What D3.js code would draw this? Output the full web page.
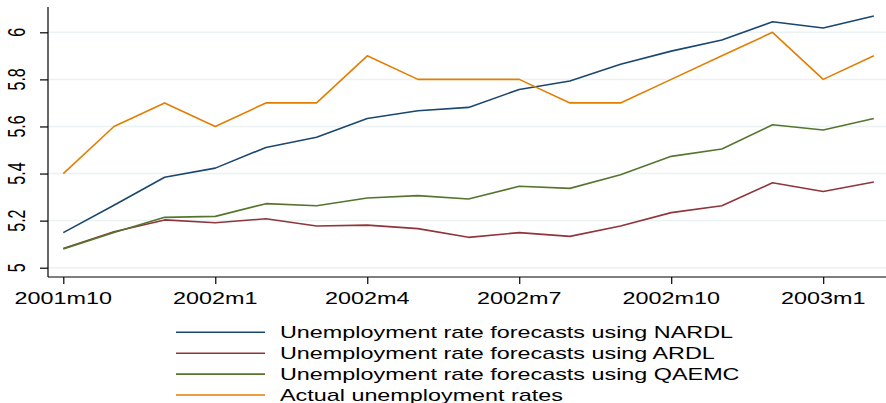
<!DOCTYPE html>
<html><head><meta charset="utf-8">
<script src="https://cdn.jsdelivr.net/npm/d3@7"></script>
<style>html,body{margin:0;padding:0;background:#fff;}svg{display:block;font-family:"Liberation Sans",Arial,sans-serif;}</style>
</head><body>
<svg id="c" width="886" height="403"></svg>
<script>
const months = ["2001m10","2001m11","2001m12","2002m1","2002m2","2002m3","2002m4","2002m5","2002m6","2002m7","2002m8","2002m9","2002m10","2002m11","2002m12","2003m1","2003m2"];
const nardl = [5.149,5.265,5.384,5.423,5.511,5.554,5.634,5.667,5.681,5.757,5.793,5.864,5.920,5.967,6.045,6.018,6.069];
const ardl  = [5.082,5.153,5.203,5.191,5.208,5.177,5.181,5.166,5.129,5.149,5.133,5.177,5.234,5.263,5.361,5.324,5.364];
const qaemc = [5.080,5.150,5.214,5.218,5.272,5.263,5.296,5.306,5.292,5.346,5.337,5.395,5.473,5.504,5.607,5.585,5.634];
const actual= [5.4,5.6,5.7,5.6,5.7,5.7,5.9,5.8,5.8,5.8,5.7,5.7,5.8,5.9,6.0,5.8,5.9];
const xTickLabels = ["2001m10","2002m1","2002m4","2002m7","2002m10","2003m1"];
const yTicks = [5,5.2,5.4,5.6,5.8,6];
const seriesNames = ["Unemployment rate forecasts using NARDL","Unemployment rate forecasts using ARDL","Unemployment rate forecasts using QAEMC","Actual unemployment rates"];
const seriesColors = ["#1a476f","#90353b","#55752f","#e37e00"];

const series = [nardl, ardl, qaemc, actual];
const svg = d3.select("#c");
const L = 48, R = 886, T = 7, B = 277;
const SX = 1.46;
const x = d3.scaleLinear().domain([-0.302, 16.24]).range([L, R]);
const y = d3.scaleLinear().domain([4.9605, 6.1075]).range([B, T]);

// grid
svg.append("g").selectAll("line").data(yTicks).join("line")
  .attr("x1", L).attr("x2", R).attr("y1", d => y(d)).attr("y2", d => y(d))
  .attr("stroke", "#eaf2f3").attr("stroke-width", 1.5);

// y axis
const yAxis = svg.append("g").attr("transform", `translate(${L},0)`)
  .call(d3.axisLeft(y).tickValues(yTicks).tickSize(8).tickFormat(""));
yAxis.select(".domain").attr("d", `M0,${T}V${B}`).attr("stroke", "#000").attr("stroke-width", 1.2);
yAxis.selectAll(".tick line").attr("stroke", "#000").attr("stroke-width", 1.2);
svg.append("g").selectAll("text").data(yTicks).join("text")
  .attr("transform", d => `translate(25,${y(d)}) scale(${SX},1) rotate(-90)`)
  .attr("text-anchor", "middle").attr("font-size", 16).attr("fill", "#000")
  .text(d => d3.format("~g")(d));

// x axis
const tickIdx = xTickLabels.map(l => months.indexOf(l));
const xAxis = svg.append("g").attr("transform", `translate(0,${B})`)
  .call(d3.axisBottom(x).tickValues(tickIdx).tickSize(7).tickFormat(""));
xAxis.select(".domain").attr("d", `M${L},0H${R}`).attr("stroke", "#000").attr("stroke-width", 1.2);
xAxis.selectAll(".tick line").attr("stroke", "#000").attr("stroke-width", 1.2);
svg.append("g").selectAll("text").data(tickIdx).join("text")
  .attr("transform", d => `translate(${x(d)},304) scale(${SX},1)`)
  .attr("text-anchor", "middle").attr("font-size", 16).attr("fill", "#000")
  .text((d, i) => xTickLabels[i]);

// lines
const line = d3.line().x((d, i) => x(i)).y(d => y(d));
svg.append("g").selectAll("path").data(series).join("path")
  .attr("d", d => line(d)).attr("fill", "none")
  .attr("stroke", (d, i) => seriesColors[i]).attr("stroke-width", 1.6)
  .attr("stroke-linejoin", "round");

// legend
const lg = svg.append("g").selectAll("g").data(seriesNames).join("g")
  .attr("transform", (d, i) => `translate(0,${332.3 + i * 20.9})`);
lg.append("line").attr("x1", 176).attr("x2", 265).attr("y1", 0).attr("y2", 0)
  .attr("stroke", (d, i) => seriesColors[i]).attr("stroke-width", 1.6);
lg.append("text").attr("transform", `translate(280,6) scale(${SX},1)`)
  .attr("font-size", 16).attr("fill", "#000").text(d => d);
</script>
</body></html>
